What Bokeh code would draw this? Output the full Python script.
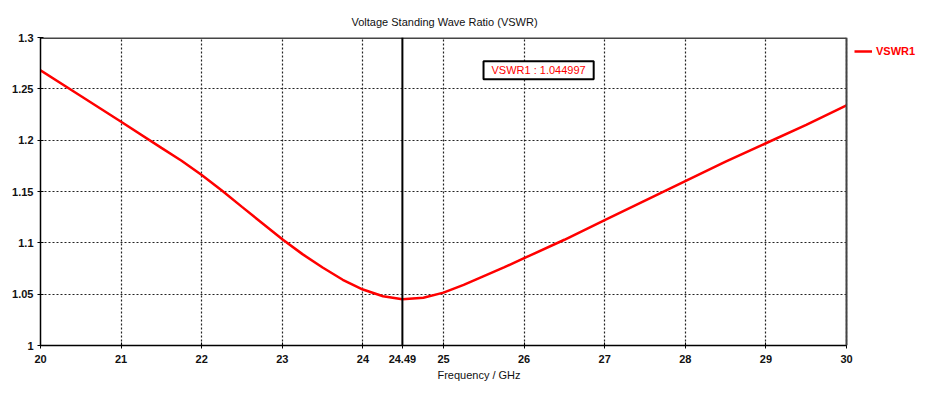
from bokeh.plotting import figure
from bokeh.models import (Span, Label, FixedTicker, Legend, LegendItem, Range1d, Grid)
from bokeh.embed import file_html
from bokeh.resources import INLINE

# ---- data ----
freq_ghz = [20.0, 20.5, 21.0, 21.5, 21.75, 22.0, 22.25, 22.5, 23.0, 23.25, 23.5, 23.75,
            24.0, 24.25, 24.49, 24.75, 25.0, 25.25, 25.5, 25.75, 26.0, 26.5, 27.0, 27.5,
            28.0, 28.5, 29.0, 29.5, 30.0]
vswr = [1.268, 1.243, 1.218, 1.1925, 1.180, 1.166, 1.151, 1.135, 1.1035, 1.089, 1.076, 1.064,
        1.0545, 1.048, 1.045, 1.0465, 1.0515, 1.059, 1.0675, 1.076, 1.085, 1.103, 1.122, 1.141,
        1.160, 1.179, 1.197, 1.215, 1.234]

x_ticks = [20, 21, 22, 23, 24, 25, 26, 27, 28, 29, 30]
y_ticks = [1.0, 1.05, 1.1, 1.15, 1.2, 1.25, 1.3]
y_tick_labels = ["1", "1.05", "1.1", "1.15", "1.2", "1.25", "1.3"]

marker_freq = 24.49
marker_label = "24.49"
marker_value_text = "VSWR1 : 1.044997"
series_name = "VSWR1"
title_text = "Voltage Standing Wave Ratio (VSWR)"
x_label_text = "Frequency / GHz"

FONT = "Liberation Sans"
W, H = 917, 385
B_LEFT, B_TOP, B_BOTTOM = 40, 37, 40
CHART_RIGHT = 846          # pixel where x = 30 sits; legend lives to its right
px_per_unit = (CHART_RIGHT - B_LEFT) / (x_ticks[-1] - x_ticks[0])
x_end = x_ticks[-1] + (W - CHART_RIGHT) / px_per_unit

p = figure(width=W, height=H, output_backend="svg", toolbar_location=None,
           x_range=Range1d(x_ticks[0], x_end), y_range=Range1d(y_ticks[0], y_ticks[-1]),
           min_border_left=B_LEFT, min_border_right=0,
           min_border_top=B_TOP, min_border_bottom=B_BOTTOM)

p.title.text = title_text
p.title.align = "left"
p.title.offset = 311
p.title.text_font = FONT
p.title.text_font_size = "11px"
p.title.text_font_style = "normal"
p.title.text_color = "#111111"
p.title.standoff = 20

p.outline_line_color = None

for ax in (p.xaxis[0], p.yaxis[0]):
    ax.axis_line_color = "black"
    ax.axis_line_width = 1.5
    ax.major_tick_in = 3
    ax.major_tick_out = 3
    ax.major_tick_line_color = "black"
    ax.minor_tick_line_color = None
    ax.major_label_text_font = FONT
    ax.major_label_text_font_style = "bold"
    ax.major_label_text_font_size = "11px"
    ax.major_label_text_color = "#111111"

p.xaxis.bounds = (x_ticks[0], x_ticks[-1])
p.xaxis.ticker = FixedTicker(ticks=x_ticks + [marker_freq])
p.xaxis.major_label_overrides = {marker_freq: marker_label}
p.yaxis.ticker = FixedTicker(ticks=y_ticks)
p.yaxis.major_label_overrides = {t: s for t, s in zip(y_ticks, y_tick_labels)}
p.xaxis.major_label_standoff = 6
p.yaxis.major_label_standoff = 4
p.xaxis.axis_label = x_label_text
p.xaxis.axis_label_standoff = 3
p.xaxis.axis_label_text_font = FONT
p.xaxis.axis_label_text_font_size = "11px"
p.xaxis.axis_label_text_font_style = "normal"
p.xaxis.axis_label_text_color = "#111111"

p.xgrid.ticker = FixedTicker(ticks=x_ticks)
p.ygrid.ticker = FixedTicker(ticks=y_ticks)
for g in (p.xgrid[0], p.ygrid[0]):
    g.grid_line_color = "#222222"
    g.grid_line_dash = "2 2"
    g.grid_line_width = 1.2

grid_dash = dict(line_color="#222222", line_dash="2 2", line_width=1.2)
if "cross_bounds" in Grid.properties():
    p.ygrid.cross_bounds = (x_ticks[0], x_ticks[-1])
else:
    p.ygrid.visible = False
    p.segment(x0=[x_ticks[0]] * len(y_ticks), y0=y_ticks,
              x1=[x_ticks[-1]] * len(y_ticks), y1=y_ticks, **grid_dash)

# chart box: top and right edges (left/bottom are the axes)
p.segment(x0=[x_ticks[0]], y0=[y_ticks[-1]], x1=[x_ticks[-1]], y1=[y_ticks[-1]],
          line_color="#444444", line_width=3)
p.add_layout(Span(location=x_ticks[-1], dimension="height", line_color="#444444", line_width=2))

line = p.line(freq_ghz, vswr, line_color="red", line_width=2.5)

p.add_layout(Span(location=marker_freq, dimension="height", line_color="black", line_width=2))

p.add_layout(Label(x=26.18, y=1.268, text=marker_value_text, text_align="center",
                   text_baseline="middle", text_font=FONT, text_font_size="11px",
                   text_color="red", background_fill_color="white",
                   border_line_color="black", border_line_width=2, padding=(8, 3)))

frame_h = H - B_TOP - B_BOTTOM
legend = Legend(items=[LegendItem(label=series_name, renderers=[line])],
                location=(CHART_RIGHT + 8 - B_LEFT, frame_h - 22),
                background_fill_alpha=0, border_line_color=None,
                label_text_color="red", label_text_font=FONT, label_text_font_size="11px",
                label_text_font_style="bold", glyph_width=18, glyph_height=16,
                label_height=16, label_standoff=4, padding=0, margin=0)
p.add_layout(legend)

open("out.html", "w").write(file_html(p, INLINE))
